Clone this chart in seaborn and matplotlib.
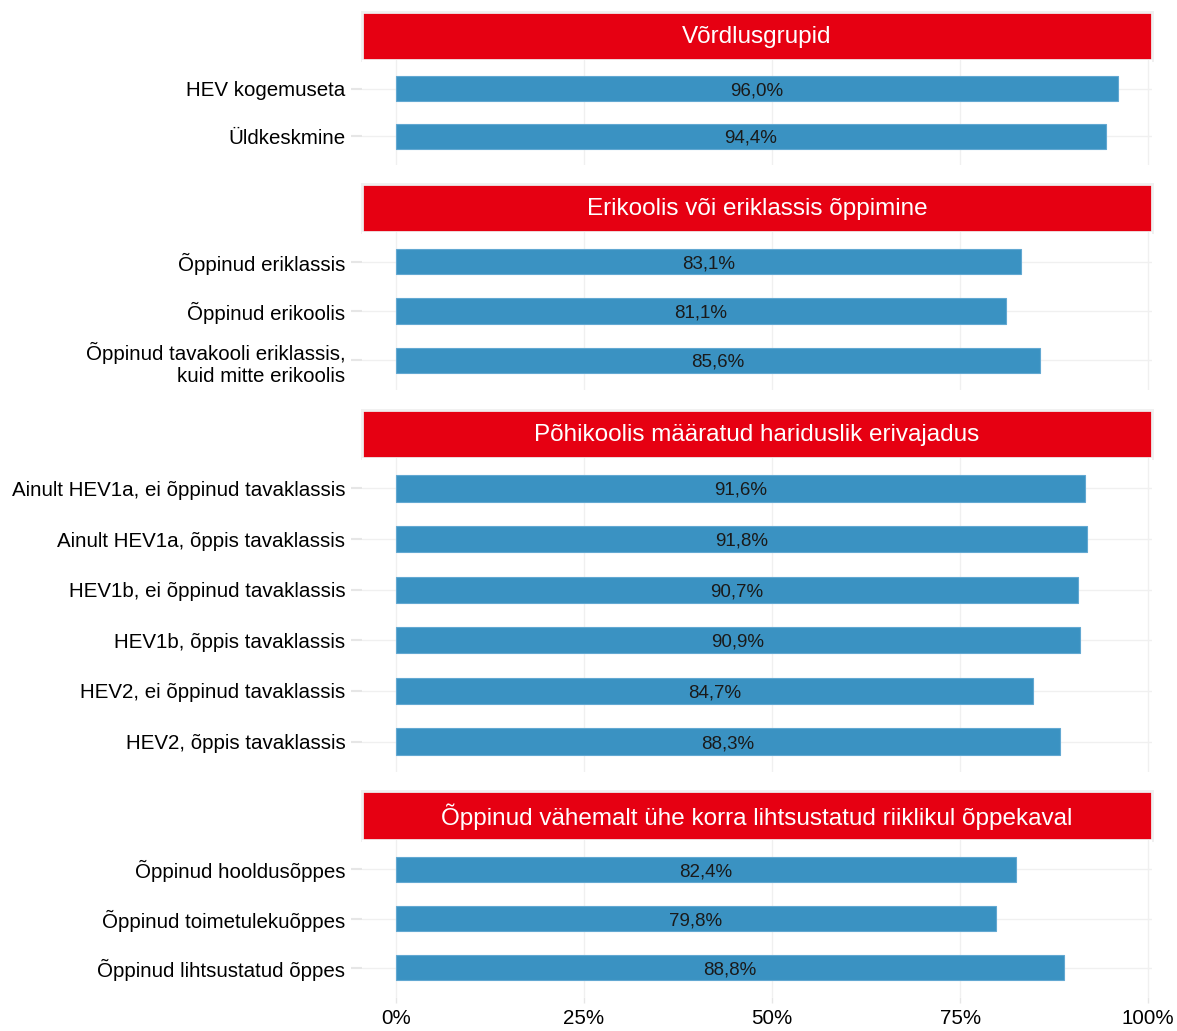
import matplotlib
matplotlib.use("Agg")
import matplotlib.pyplot as plt
import seaborn as sns
import pandas as pd

# data
panel_titles = [
    "Võrdlusgrupid",
    "Erikoolis või eriklassis õppimine",
    "Põhikoolis määratud hariduslik erivajadus",
    "Õppinud vähemalt ühe korra lihtsustatud riiklikul õppekaval",
]
groups_1 = ["HEV kogemuseta", "Üldkeskmine"]
values_1 = [96.0, 94.4]
groups_2 = ["Õppinud eriklassis", "Õppinud erikoolis",
            "Õppinud tavakooli eriklassis,\nkuid mitte erikoolis"]
values_2 = [83.1, 81.1, 85.6]
groups_3 = ["Ainult HEV1a, ei õppinud tavaklassis", "Ainult HEV1a, õppis tavaklassis",
            "HEV1b, ei õppinud tavaklassis", "HEV1b, õppis tavaklassis",
            "HEV2, ei õppinud tavaklassis", "HEV2, õppis tavaklassis"]
values_3 = [91.6, 91.8, 90.7, 90.9, 84.7, 88.3]
groups_4 = ["Õppinud hooldusõppes", "Õppinud toimetulekuõppes", "Õppinud lihtsustatud õppes"]
values_4 = [82.4, 79.8, 88.8]
x_ticks = [0, 25, 50, 75, 100]
x_tick_labels = ["0%", "25%", "50%", "75%", "100%"]

panels = [(groups_1, values_1), (groups_2, values_2), (groups_3, values_3), (groups_4, values_4)]

sns.set_theme(style="white")
plt.rcParams["font.family"] = ["Liberation Sans", "DejaVu Sans"]

RED = "#E60012"
BLUE = "#3A92C2"
GRID = "#F0F0F0"

W, H = 1177, 1031
fig = plt.figure(figsize=(W / 100, H / 100), dpi=100)

# pixel layout: (strip top, strip bottom, panel bottom)
layout = [(12, 60, 165), (184, 232, 390), (410, 458, 772), (791, 840, 997)]
left_px, right_px = 362, 1152

for i, ((groups, vals), title, (st, sb, pb)) in enumerate(zip(panels, panel_titles, layout)):
    # strip
    sax = fig.add_axes([left_px / W, 1 - sb / H, (right_px - left_px) / W, (sb - st) / H])
    sax.set_facecolor(RED)
    sax.set_xticks([])
    sax.set_yticks([])
    for sp in sax.spines.values():
        sp.set_visible(True)
        sp.set_color(GRID)
        sp.set_linewidth(2)
    sax.text(0.5, 0.47, title, color="white", fontsize=17.5, ha="center", va="center",
             transform=sax.transAxes)

    ax = fig.add_axes([left_px / W, 1 - pb / H, (right_px - left_px) / W, (pb - sb) / H])
    df = pd.DataFrame({"group": groups, "value": vals})
    sns.barplot(data=df, x="value", y="group", ax=ax, color=BLUE, width=0.52,
                orient="h", edgecolor="#62A8D2", linewidth=0.8, saturation=1)
    ax.set_xlim(-4.5, 100.5)
    n = len(groups)
    ax.set_ylim(n - 1 + 0.6, -0.6)
    ax.set_xlabel("")
    ax.set_ylabel("")
    ax.set_axisbelow(True)
    ax.set_xticks(x_ticks)
    ax.grid(True, color=GRID, linewidth=1)
    for sp in ax.spines.values():
        sp.set_visible(False)
    ax.tick_params(axis="y", length=8, width=1.5, color="#E6E6E6", labelsize=14.8,
                   labelcolor="black", pad=4, left=True)
    if i == len(panels) - 1:
        ax.set_xticklabels(x_tick_labels)
        ax.tick_params(axis="x", length=4, width=1, color="#E6E6E6", labelsize=14.8,
                       labelcolor="black", pad=4.5, bottom=True)
    else:
        ax.tick_params(axis="x", length=0, labelbottom=False)
    labels = [f"{v:.1f}%".replace(".", ",") for v in vals]
    anns = ax.bar_label(ax.containers[0], labels=labels, label_type="center",
                        fontsize=13.5, color="#1A1A1A")
    for a in anns:
        a.xyann = (0, -1.5)

fig.savefig("out.png", dpi=100)
